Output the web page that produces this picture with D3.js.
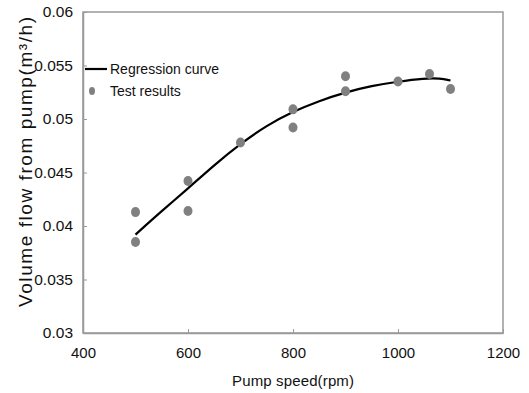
<!DOCTYPE html>
<html>
<head>
<meta charset="utf-8">
<script src="https://cdn.jsdelivr.net/npm/d3@7"></script>
<style>
  body { margin: 0; background: #fff; }
  text { font-family: "Liberation Sans", Arial, sans-serif; fill: #111; }
</style>
</head>
<body>
<div id="chart"></div>
<script>
// Test results (pump speed rpm, volume flow m3/h)
const testSpeed = [500, 500, 600, 600, 700, 800, 800, 900, 900, 1000, 1060, 1100];
const testFlow = [0.0413, 0.0385, 0.0442, 0.0414, 0.0478, 0.0509, 0.0492, 0.0540, 0.0526, 0.0535, 0.0542, 0.0528];

// Regression curve
const curveSpeed = [500, 550, 600, 650, 700, 750, 800, 850, 900, 950, 1000, 1050, 1080, 1100];
const curveFlow = [0.0392, 0.0414, 0.0435, 0.0457, 0.0477, 0.0494, 0.0507, 0.0517, 0.0525, 0.0531, 0.0535, 0.0538, 0.0538, 0.0536];

const xTicks = [400, 600, 800, 1000, 1200];
const yTicks = [0.03, 0.035, 0.04, 0.045, 0.05, 0.055, 0.06];

const legendLabels = ["Regression curve", "Test results"];

const margin = { top: 12, right: 26, bottom: 60, left: 83 };
const W = 529, H = 393;
const width = W - margin.left - margin.right;
const height = H - margin.top - margin.bottom;

const svg = d3.select("#chart").append("svg")
    .attr("width", W)
    .attr("height", H);

const g = svg.append("g")
    .attr("transform", `translate(${margin.left},${margin.top})`);

const x = d3.scaleLinear().domain([400, 1200]).range([0, width]);
const y = d3.scaleLinear().domain([0.03, 0.06]).range([height, 0]);

// plot frame
g.append("rect")
    .attr("width", width)
    .attr("height", height)
    .attr("fill", "none")
    .attr("stroke", "#999")
    .attr("stroke-width", 1.5);

// x axis
const xAxis = g.append("g")
    .attr("transform", `translate(0,${height})`)
    .call(d3.axisBottom(x).tickValues(xTicks).tickFormat(d3.format("d"))
        .tickSizeInner(-4).tickSizeOuter(0).tickPadding(14));
xAxis.select(".domain").attr("stroke", "#999").attr("stroke-width", 1.5);
xAxis.selectAll(".tick line").attr("stroke", "#999");
xAxis.selectAll("text").style("font-size", "15px").attr("fill", "#111");

// y axis
const yAxis = g.append("g")
    .call(d3.axisLeft(y).tickValues(yTicks).tickFormat(d => String(+d.toFixed(3)))
        .tickSizeInner(-4).tickSizeOuter(0).tickPadding(10));
yAxis.select(".domain").attr("stroke", "#999").attr("stroke-width", 1.5);
yAxis.selectAll(".tick line").attr("stroke", "#999");
yAxis.selectAll("text").style("font-size", "15.5px").attr("fill", "#111");

// axis titles
svg.append("text")
    .attr("x", margin.left + x(800))
    .attr("y", 386)
    .attr("text-anchor", "middle")
    .style("font-size", "15px")
    .attr("textLength", 122)
    .text("Pump speed(rpm)");

svg.append("text")
    .attr("transform", "translate(32,162) rotate(-90)")
    .attr("text-anchor", "middle")
    .style("font-size", "19px")
    .attr("textLength", 290)
    .text("Volume flow from pump(m³/h)");

// regression curve
const line = d3.line()
    .x((d, i) => x(curveSpeed[i]))
    .y(d => y(d))
    .curve(d3.curveBasis);

g.append("path")
    .datum(curveFlow)
    .attr("fill", "none")
    .attr("stroke", "#000")
    .attr("stroke-width", 2.2)
    .attr("d", line);

// test results
g.selectAll(".pt")
    .data(testFlow)
    .enter().append("ellipse")
    .attr("class", "pt")
    .attr("cx", (d, i) => x(testSpeed[i]))
    .attr("cy", d => y(d))
    .attr("rx", 4.5)
    .attr("ry", 5)
    .attr("fill", "#808080");

// legend
const legend = g.append("g");
legend.append("line")
    .attr("x1", 2).attr("x2", 24)
    .attr("y1", 57).attr("y2", 57)
    .attr("stroke", "#000")
    .attr("stroke-width", 2.2);
legend.append("ellipse")
    .attr("cx", 9).attr("cy", 79)
    .attr("rx", 3).attr("ry", 4)
    .attr("fill", "#808080");
legend.selectAll(".lg")
    .data(legendLabels)
    .enter().append("text")
    .attr("class", "lg")
    .attr("x", 27)
    .attr("y", (d, i) => 62 + i * 22)
    .style("font-size", "14px")
    .text(d => d);
</script>
</body>
</html>
